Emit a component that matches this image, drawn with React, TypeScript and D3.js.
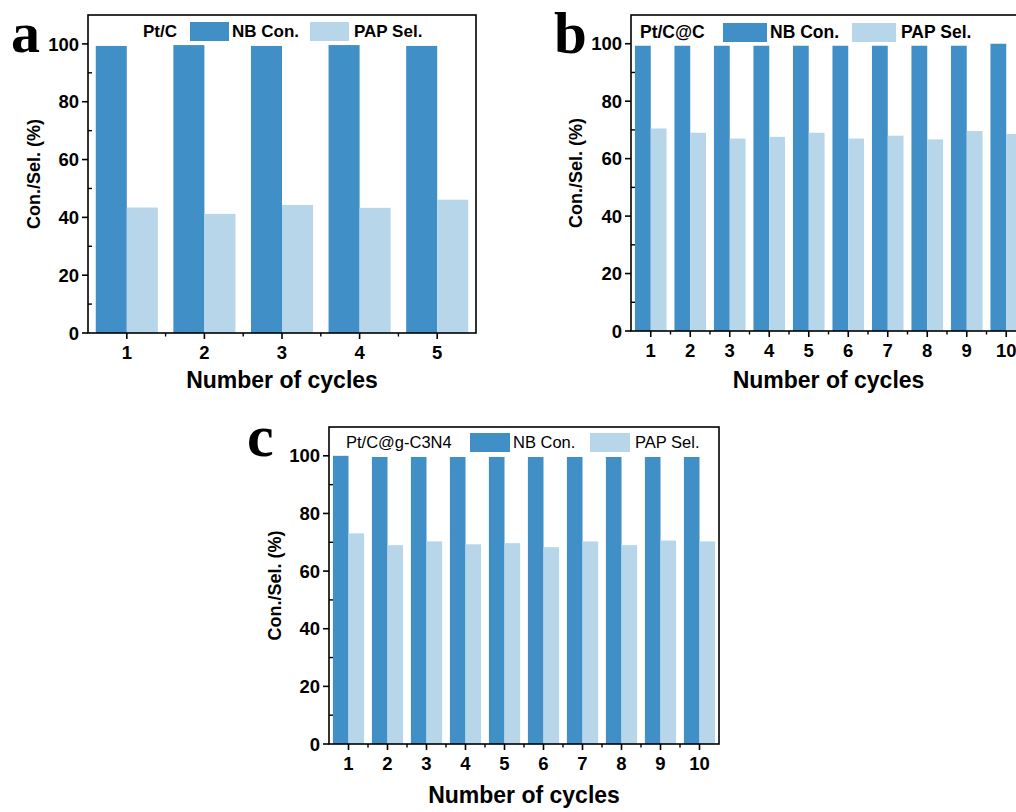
import React from "react";
import * as d3 from "d3";

const cyclesA = [1, 2, 3, 4, 5];
const nbA = [99.3, 99.6, 99.3, 99.6, 99.3];
const papA = [43.4, 41.2, 44.3, 43.3, 46.1];

const cyclesB = [1, 2, 3, 4, 5, 6, 7, 8, 9, 10];
const nbB = [99.3, 99.3, 99.3, 99.3, 99.3, 99.3, 99.3, 99.3, 99.3, 100];
const papB = [70.5, 69.0, 67.0, 67.6, 69.0, 67.0, 68.0, 66.7, 69.6, 68.6];

const cyclesC = [1, 2, 3, 4, 5, 6, 7, 8, 9, 10];
const nbC = [100, 99.6, 99.6, 99.6, 99.6, 99.6, 99.6, 99.6, 99.6, 99.6];
const papC = [73.1, 69.0, 70.3, 69.3, 69.7, 68.3, 70.3, 69.0, 70.6, 70.3];

const yTicks = [0, 20, 40, 60, 80, 100];
const yMinor = [10, 30, 50, 70, 90];

const NB_COLOR = "#418FC7";
const PAP_COLOR = "#B8D6E9";
const SANS = "'Liberation Sans', Arial, sans-serif";
const SERIF = "'Liberation Serif', 'Times New Roman', serif";

type PanelProps = {
  left: number;
  top: number;
  right: number;
  bottom: number;
  cycles: number[];
  nb: number[];
  pap: number[];
  name: string;
  letter: string;
  letterX: number;
  letterY: number;
  letterSize: number;
  legendBold: boolean;
  legendSize: number;
  legend: { nameX: number; nbX: number; papX: number; swW: number; y: number };
  yLabelX: number;
  xLabelY: number;
};

function Panel(p: PanelProps) {
  const n = p.cycles.length;
  const x = d3.scaleLinear().domain([0.5, n + 0.5]).range([p.left, p.right]);
  const y = d3.scaleLinear().domain([0, 110]).range([p.bottom, p.top]);
  const step = x(1) - x(0);
  const bw = step * 0.4;
  const xMinor = d3.range(1, n).map((v) => v + 0.5);
  const lw = p.legendBold ? "bold" : "normal";
  const plotCx = (p.left + p.right) / 2;
  return (
    <g>
      {p.cycles.map((c, i) => (
        <g key={c}>
          <rect x={x(c) - bw} y={y(p.nb[i])} width={bw} height={y(0) - y(p.nb[i])} fill={NB_COLOR} />
          <rect x={x(c)} y={y(p.pap[i])} width={bw} height={y(0) - y(p.pap[i])} fill={PAP_COLOR} />
        </g>
      ))}
      <rect x={p.left} y={p.top} width={p.right - p.left} height={p.bottom - p.top} fill="none" stroke="#000" strokeWidth={1.6} />
      {yTicks.map((t) => (
        <g key={"y" + t}>
          <line x1={p.left - 6} x2={p.left} y1={y(t)} y2={y(t)} stroke="#000" strokeWidth={1.6} />
          <text x={p.left - 9} y={y(t)} dy="0.36em" textAnchor="end" fontFamily={SANS} fontWeight="bold" fontSize={18.5}>
            {t}
          </text>
        </g>
      ))}
      {yMinor.map((t) => (
        <line key={"ym" + t} x1={p.left} x2={p.left + 4} y1={y(t)} y2={y(t)} stroke="#000" strokeWidth={1.4} />
      ))}
      {p.cycles.map((c) => (
        <g key={"x" + c}>
          <line x1={x(c)} x2={x(c)} y1={p.bottom} y2={p.bottom + 6} stroke="#000" strokeWidth={1.6} />
          <text x={x(c)} y={p.bottom + 26} textAnchor="middle" fontFamily={SANS} fontWeight="bold" fontSize={18.5}>
            {c}
          </text>
        </g>
      ))}
      {xMinor.map((t) => (
        <line key={"xm" + t} x1={x(t)} x2={x(t)} y1={p.bottom} y2={p.bottom + 3.5} stroke="#000" strokeWidth={1.4} />
      ))}
      <text
        transform={`translate(${p.yLabelX},${(p.top + p.bottom) / 2}) rotate(-90)`}
        textAnchor="middle"
        fontFamily={SANS}
        fontWeight="bold"
        fontSize={18}
      >
        Con./Sel. (%)
      </text>
      <text x={plotCx} y={p.xLabelY} textAnchor="middle" fontFamily={SANS} fontWeight="bold" fontSize={23}>
        Number of cycles
      </text>
      <text x={p.legend.nameX} y={p.legend.y} dy="0.36em" fontFamily={SANS} fontWeight={lw} fontSize={p.legendSize}>
        {p.name}
      </text>
      <rect x={p.legend.nbX} y={p.legend.y - 9} width={p.legend.swW} height={19} fill={NB_COLOR} />
      <text x={p.legend.nbX + p.legend.swW + 3} y={p.legend.y} dy="0.36em" fontFamily={SANS} fontWeight={lw} fontSize={p.legendSize}>
        NB Con.
      </text>
      <rect x={p.legend.papX} y={p.legend.y - 9} width={p.legend.swW} height={19} fill={PAP_COLOR} />
      <text x={p.legend.papX + p.legend.swW + 5} y={p.legend.y} dy="0.36em" fontFamily={SANS} fontWeight={lw} fontSize={p.legendSize}>
        PAP Sel.
      </text>
      <text x={p.letterX} y={p.letterY} fontFamily={SERIF} fontWeight="bold" fontSize={p.letterSize}>
        {p.letter}
      </text>
    </g>
  );
}

export default function App() {
  return (
    <svg width={1016} height={812} style={{ position: "absolute", left: 0, top: 0, background: "#fff" }}>
      <rect x={0} y={0} width={1016} height={812} fill="#fff" />
      <Panel
        left={88}
        top={15}
        right={476}
        bottom={333}
        cycles={cyclesA}
        nb={nbA}
        pap={papA}
        name="Pt/C"
        letter="a"
        letterX={11}
        letterY={52}
        letterSize={58}
        legendBold={true}
        legendSize={17}
        legend={{ nameX: 143, nbX: 190, papX: 310, swW: 39, y: 31 }}
        yLabelX={40}
        xLabelY={388}
      />
      <Panel
        left={631}
        top={15}
        right={1026}
        bottom={331}
        cycles={cyclesB}
        nb={nbB}
        pap={papB}
        name="Pt/C@C"
        letter="b"
        letterX={554}
        letterY={53}
        letterSize={59}
        legendBold={true}
        legendSize={17.5}
        legend={{ nameX: 640, nbX: 723, papX: 852, swW: 44, y: 32 }}
        yLabelX={582}
        xLabelY={388}
      />
      <Panel
        left={329}
        top={427}
        right={719}
        bottom={744}
        cycles={cyclesC}
        nb={nbC}
        pap={papC}
        name="Pt/C@g-C3N4"
        letter="c"
        letterX={247}
        letterY={456}
        letterSize={60}
        legendBold={false}
        legendSize={16.5}
        legend={{ nameX: 346, nbX: 470, papX: 590, swW: 40, y: 442 }}
        yLabelX={281}
        xLabelY={803}
      />
    </svg>
  );
}
